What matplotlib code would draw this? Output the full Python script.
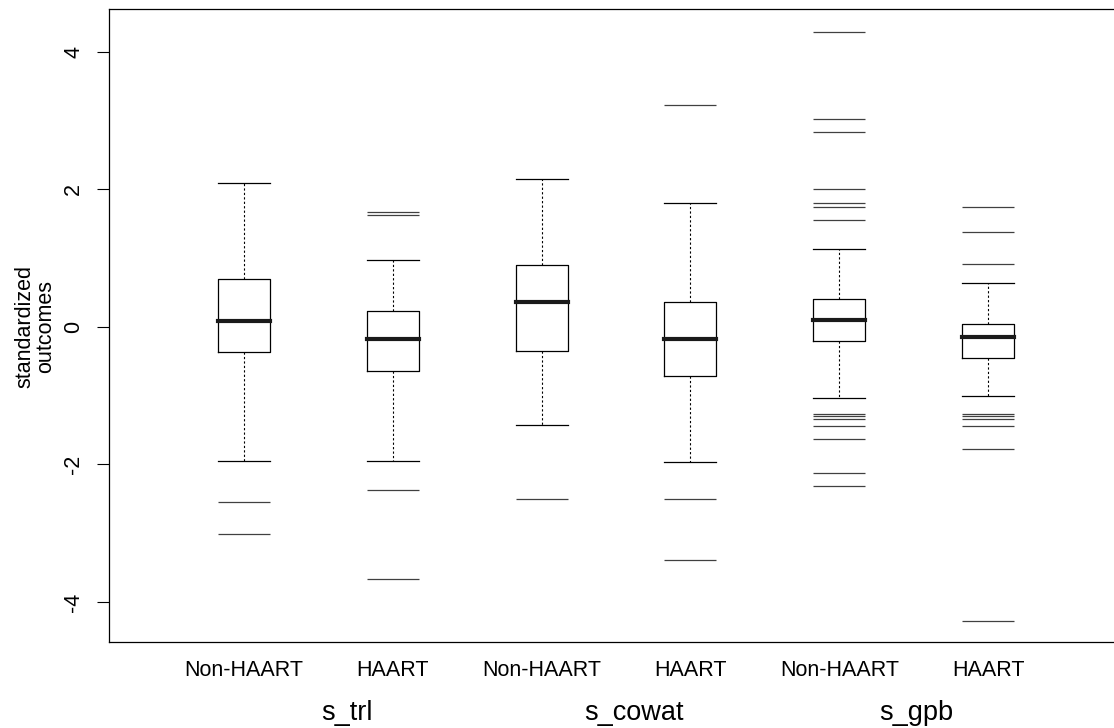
import numpy as np
import matplotlib
matplotlib.use("Agg")
import matplotlib.pyplot as plt

plt.rcParams['font.family'] = ['Liberation Sans', 'DejaVu Sans']

# outcome groups and treatment arms
groups = ["s_trl", "s_cowat", "s_gpb"]
arms = ["Non-HAART", "HAART"]

# box statistics, one entry per box (group x arm)
medians = [0.09, -0.18, 0.37, -0.17, 0.10, -0.15]
q1 = [-0.37, -0.645, -0.35, -0.71, -0.20, -0.455]
q3 = [0.70, 0.233, 0.90, 0.364, 0.41, 0.045]
whislo = [-1.95, -1.95, -1.425, -1.965, -1.04, -1.01]
whishi = [2.09, 0.975, 2.153, 1.798, 1.135, 0.633]
outliers = [
    [-2.545, -3.01],
    [1.668, 1.624, -2.371, -3.66],
    [-2.50],
    [3.228, -2.50, -3.39],
    [4.29, 3.03, 2.835, 2.0, 1.804, 1.751, 1.555,
     -1.27, -1.30, -1.34, -1.44, -1.63, -2.127, -2.32],
    [1.745, 1.382, 0.909, -1.27, -1.30, -1.34, -1.44, -1.77, -4.277],
]

W, H = 1114, 728
fig = plt.figure(figsize=(W / 100, H / 100), dpi=100)
# right edge of the plot box sits just past the image edge, like the reference
ax = fig.add_axes([109 / W, (H - 642) / H, (1123 - 109) / W, (642 - 9) / H])

stats = []
for i in range(len(medians)):
    stats.append(dict(med=medians[i], q1=q1[i], q3=q3[i],
                      whislo=whislo[i], whishi=whishi[i],
                      fliers=outliers[i], label=arms[i % 2]))

box_w = 0.35
positions = np.arange(1, len(stats) + 1)
ax.bxp(stats, positions=positions, widths=box_w, capwidths=box_w,
       boxprops=dict(color='black', lw=0.9),
       whiskerprops=dict(color='black', lw=0.8, linestyle=(0, (2, 2))),
       capprops=dict(color='black', lw=0.9),
       medianprops=dict(color='#1a1a1a', lw=3.0, solid_capstyle='projecting'),
       flierprops=dict(marker='_', markersize=37.5, markeredgewidth=0.9,
                       markeredgecolor='#404040'))

ax.set_xlim(0.094, 6.906)
ax.set_ylim(-4.582, 4.625)

ax.set_yticks([-4, -2, 0, 2, 4])
ax.set_yticklabels(["-4", "-2", "0", "2", "4"], rotation=90, va='center')
ax.tick_params(axis='y', length=9, width=0.8, pad=9, labelsize=15.5)
ax.tick_params(axis='x', length=0, pad=13, labelsize=15.5)
for s in ax.spines.values():
    s.set_linewidth(0.9)

# group names under each pair of boxes
group_x = [1.695, 3.622, 5.52]
for gx, g in zip(group_x, groups):
    ax.text(gx, -0.112, g, transform=ax.get_xaxis_transform(),
            ha='center', va='center', fontsize=19.5)

fig.text(35 / W, (H - 327) / H, "standardized\noutcomes", rotation=90,
         ha='center', va='center', fontsize=15.5, linespacing=1.0)

fig.savefig("out.png", dpi=100)
